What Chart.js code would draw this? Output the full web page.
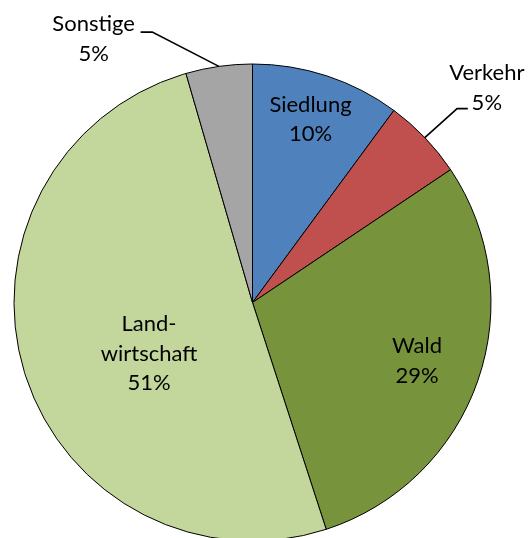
<!DOCTYPE html>
<html><head><meta charset="utf-8">
<script src="https://cdn.jsdelivr.net/npm/chart.js@4"></script>
<style>html,body{margin:0;padding:0;background:#fff;overflow:hidden}#wrap{width:528px;height:538px}</style>
</head><body><div id="wrap"><canvas id="c" width="528" height="538"></canvas></div>
<script>
// ---- data ----
const categories = [['Siedlung'], ['Verkehr'], ['Wald'], ['Land-', 'wirtschaft'], ['Sonstige']];
const shares = [10.1, 5.5, 29.4, 50.5, 4.5];
const shareLabels = ['10%', '5%', '29%', '51%', '5%'];
const colors = ['#4F81BD', '#C0504D', '#77933C', '#C3D69B', '#A5A5A5'];

// ---- label styling / placement ----
const FONT = '22px Lato';
const LINE_H = 29.3;
const placement = [
  {type: 'in', r: 0.805, dA: -0.6},
  {type: 'out', elbow: [32.3, -29], tail: 10.7, text: [19, -28.4]},
  {type: 'in', r: 0.732, dA: 0.5},
  {type: 'in', r: 0.484, dA: -9.2},
  {type: 'out', elbow: [-66.6, -34.3], tail: -11.7, text: [-47, -0.7]}
];

const labelPlugin = {
  id: 'pieLabels',
  afterDatasetsDraw(chart) {
    const ctx = chart.ctx;
    const arcs = chart.getDatasetMeta(0).data;
    ctx.save();
    ctx.font = FONT;
    ctx.fillStyle = '#000';
    ctx.strokeStyle = '#000';
    ctx.lineWidth = 1.6;
    ctx.textAlign = 'center';
    ctx.textBaseline = 'alphabetic';
    arcs.forEach((arc, i) => {
      const {x, y, startAngle, endAngle, outerRadius} = arc.getProps(['x', 'y', 'startAngle', 'endAngle', 'outerRadius'], true);
      const mid = (startAngle + endAngle) / 2;
      const lines = categories[i].concat([shareLabels[i]]);
      const p = placement[i];
      let cx, y0;
      if (p.type === 'in') {
        const a = mid + p.dA * Math.PI / 180;
        const r = outerRadius * p.r;
        cx = x + r * Math.cos(a);
        const cy = y + r * Math.sin(a);
        y0 = cy + 7 - (lines.length - 1) * LINE_H / 2;
      } else {
        const sx = x + outerRadius * Math.cos(mid);
        const sy = y + outerRadius * Math.sin(mid);
        const ex = sx + p.elbow[0], ey = sy + p.elbow[1];
        const tx = ex + p.tail;
        ctx.beginPath();
        ctx.moveTo(sx, sy);
        ctx.lineTo(ex, ey);
        ctx.lineTo(tx, ey);
        ctx.stroke();
        cx = tx + p.text[0];
        y0 = ey + p.text[1];
      }
      lines.forEach((t, k) => ctx.fillText(t, cx, y0 + k * LINE_H));
    });
    ctx.restore();
  }
};

new Chart(document.getElementById('c'), {
  type: 'pie',
  data: {
    labels: categories.map(c => c.join('')),
    datasets: [{
      data: shares,
      backgroundColor: colors,
      borderColor: '#000',
      borderWidth: 1,
      clip: false
    }]
  },
  options: {
    responsive: false,
    animation: false,
    events: [],
    radius: 238.5,
    layout: {padding: {left: 14, right: 37, top: 67, bottom: 0}},
    plugins: {legend: {display: false}, tooltip: {enabled: false}}
  },
  plugins: [labelPlugin]
});
</script>
</body></html>
